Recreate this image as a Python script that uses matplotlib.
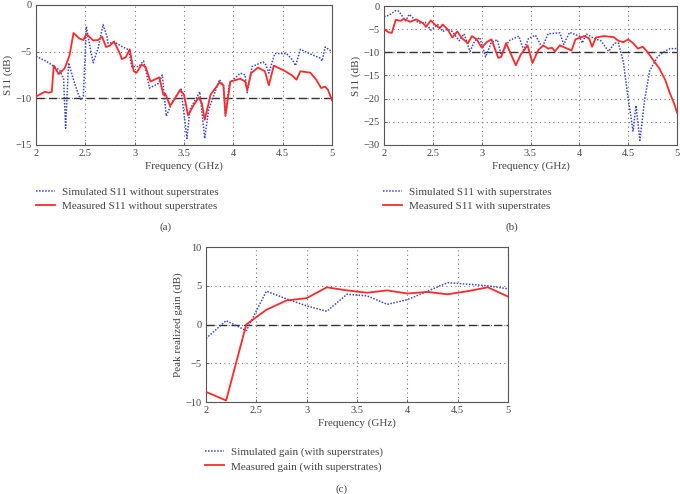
import matplotlib
matplotlib.use("Agg")
import matplotlib.pyplot as plt

# ---------------- data ----------------
# (a) without superstrates
sim_a_f = [2.0, 2.1, 2.2, 2.24, 2.28, 2.30, 2.33, 2.38, 2.43, 2.46, 2.48, 2.51, 2.54, 2.58, 2.63,
           2.68, 2.72, 2.73, 2.8, 2.88, 2.94, 2.97, 3.04, 3.09, 3.12, 3.15, 3.24, 3.28, 3.32, 3.39,
           3.47, 3.53, 3.56, 3.66, 3.71, 3.75, 3.86, 3.9, 3.92, 3.96, 4.07, 4.12, 4.14, 4.19, 4.3,
           4.33, 4.36, 4.42, 4.54, 4.6, 4.63, 4.68, 4.77, 4.88, 4.9, 4.93, 5.0]
sim_a_s = [-5.5, -6.0, -6.7, -7.0, -7.9, -13.2, -6.2, -8.0, -9.6, -10.2, -9.8, -2.3, -4.1, -6.2, -4.6,
           -2.1, -3.4, -4.1, -4.0, -4.5, -4.8, -6.6, -6.6, -6.0, -7.3, -8.9, -8.4, -7.5, -11.9, -10.2,
           -9.0, -14.3, -11.2, -9.3, -14.3, -11.2, -8.0, -8.6, -11.9, -8.4, -7.3, -7.5, -9.4, -6.6, -6.1,
           -6.4, -7.3, -5.2, -5.2, -5.9, -6.5, -4.75, -5.2, -5.7, -6.0, -4.5, -5.0]
meas_a_f = [2.0, 2.09, 2.13, 2.16, 2.18, 2.23, 2.29, 2.34, 2.38, 2.44, 2.48, 2.51, 2.58, 2.63, 2.67,
            2.71, 2.75, 2.79, 2.85, 2.87, 2.91, 2.95, 2.99, 3.02, 3.07, 3.11, 3.16, 3.2, 3.25, 3.29,
            3.31, 3.36, 3.41, 3.46, 3.5, 3.54, 3.6, 3.65, 3.68, 3.71, 3.77, 3.86, 3.9, 3.92, 3.97,
            4.07, 4.12, 4.14, 4.18, 4.25, 4.32, 4.36, 4.41, 4.51, 4.59, 4.64, 4.68, 4.78, 4.84, 4.89,
            4.93, 4.96, 5.0]
meas_a_s = [-9.8, -9.3, -9.4, -9.3, -6.5, -7.4, -6.8, -5.4, -3.0, -3.6, -3.75, -3.1, -3.8, -3.75, -3.4,
            -4.5, -4.35, -3.9, -5.2, -5.8, -5.6, -4.75, -7.1, -7.25, -6.4, -6.6, -8.2, -8.0, -7.75, -9.6,
            -9.5, -10.8, -10.0, -9.1, -9.6, -11.8, -10.7, -9.9, -10.5, -12.3, -9.6, -8.3, -8.6, -11.8, -8.2,
            -7.9, -8.2, -9.1, -7.3, -6.7, -7.1, -8.6, -6.5, -7.0, -7.5, -8.0, -7.1, -7.25, -8.0, -8.9,
            -8.75, -9.1, -10.2]

# (b) with superstrates
sim_b_f = [2.0, 2.05, 2.12, 2.15, 2.22, 2.26, 2.33, 2.38, 2.42, 2.48, 2.52, 2.55, 2.6, 2.65, 2.7,
           2.77, 2.82, 2.88, 2.93, 2.98, 3.04, 3.1, 3.16, 3.2, 3.28, 3.38, 3.43, 3.48, 3.55, 3.62,
           3.68, 3.8, 3.84, 3.9, 4.0, 4.03, 4.07, 4.15, 4.22, 4.3, 4.36, 4.4, 4.45, 4.5, 4.55,
           4.58, 4.62, 4.67, 4.72, 4.8, 4.88, 4.93, 5.0]
sim_b_s = [-2.3, -2.0, -1.0, -1.1, -3.2, -1.8, -3.3, -3.8, -3.5, -5.2, -4.5, -4.0, -5.5, -5.0, -5.5,
           -7.5, -6.0, -9.8, -7.5, -6.8, -11.0, -7.8, -7.3, -10.5, -7.5, -6.5, -9.5, -7.0, -6.3, -9.0,
           -6.0, -5.8, -8.3, -5.7, -6.5, -8.0, -6.0, -7.0, -7.5, -9.8, -8.0, -8.0, -12.0, -20.0, -27.0,
           -21.5, -29.0, -20.0, -14.0, -11.0, -9.7, -9.2, -9.2]
meas_b_f = [2.0, 2.05, 2.08, 2.12, 2.17, 2.2, 2.27, 2.33, 2.4, 2.43, 2.48, 2.52, 2.57, 2.6, 2.65,
            2.7, 2.75, 2.8, 2.86, 2.9, 2.95, 3.0, 3.05, 3.1, 3.17, 3.2, 3.25, 3.35, 3.4, 3.47,
            3.52, 3.58, 3.63, 3.68, 3.72, 3.75, 3.8, 3.92, 3.96, 4.05, 4.1, 4.13, 4.17, 4.25, 4.35,
            4.4, 4.45, 4.5, 4.55, 4.6, 4.65, 4.7, 4.75, 4.82, 4.88, 4.93, 4.97, 5.0]
meas_b_s = [-5.0, -5.7, -5.8, -3.0, -3.2, -2.8, -3.4, -2.9, -3.7, -4.5, -3.1, -4.0, -4.8, -4.0, -5.0,
            -6.8, -5.5, -7.0, -8.0, -6.5, -7.2, -9.0, -7.8, -7.2, -11.2, -11.0, -8.0, -12.8, -10.5, -8.5,
            -12.3, -9.5, -8.5, -9.2, -9.0, -9.8, -8.5, -9.6, -7.2, -6.5, -7.0, -8.8, -6.8, -6.5, -6.7,
            -7.5, -7.8, -7.2, -8.0, -9.2, -8.8, -10.0, -11.5, -13.5, -16.0, -19.0, -21.0, -23.0]

# (c) peak realized gain
gain_f = [2.0, 2.2, 2.4, 2.6, 2.8, 3.0, 3.2, 3.4, 3.6, 3.8, 4.0, 4.2, 4.4, 4.6, 4.8, 5.0]
gain_sim = [-1.8, 0.5, -0.8, 4.3, 3.3, 2.4, 1.7, 3.9, 3.7, 2.6, 3.2, 4.3, 5.4, 5.2, 5.0, 4.6]
gain_meas = [-8.7, -9.8, 0.0, 1.9, 3.1, 3.4, 4.8, 4.4, 4.1, 4.4, 4.0, 4.2, 3.9, 4.3, 4.8, 3.6]

xticks = [2, 2.5, 3, 3.5, 4, 4.5, 5]
xtick_labels = ["2", "2.5", "3", "3.5", "4", "4.5", "5"]

# ---------------- style ----------------
plt.rcParams['font.family'] = ['Liberation Serif', 'DejaVu Serif']
plt.rcParams['font.size'] = 7.5
FS = 7.5
BLUE = "#3a48c8"
RED = "#ff2a2a"
TXT = "#444444"

W, H = 680, 494
fig = plt.figure(figsize=(W / 100, H / 100), dpi=100)


def make_ax(l, t, r, b):
    return fig.add_axes([l / W, 1 - b / H, (r - l) / W, (b - t) / H])


def style(ax, ylim, yticks, ylabel, ref):
    ax.set_xlim(2, 5)
    ax.set_ylim(*ylim)
    ax.set_xticks(xticks)
    ax.set_xticklabels(xtick_labels)
    ax.set_yticks(yticks)
    ax.grid(True, linestyle=(0, (1, 3)), color="#777777", linewidth=0.8)
    ax.axhline(ref, color="#333333", linestyle=(0, (6, 3)), linewidth=1.0, zorder=2)
    for s in ax.spines.values():
        s.set_color("#555555")
        s.set_linewidth(0.8)
    ax.tick_params(direction="in", length=2, width=0.6, colors="#555555",
                   labelcolor=TXT, labelsize=FS, pad=3)
    ax.set_xlabel("Frequency (GHz)", fontsize=FS + 0.5, color=TXT, labelpad=2)
    ax.set_ylabel(ylabel, fontsize=FS + 0.5, color=TXT, labelpad=2)


def add_legend(ax, labels, x_px, y_px):
    h1, = ax.plot([], [], color=BLUE, linestyle=(0, (1, 1)), linewidth=1.1)
    h2, = ax.plot([], [], color=RED, linewidth=1.3)
    ax.legend([h1, h2], labels, loc="upper left",
              bbox_to_anchor=(x_px / W, 1 - y_px / H), bbox_transform=fig.transFigure,
              frameon=False, fontsize=FS + 0.5, handlelength=1.7, handletextpad=0.6,
              labelspacing=0.4, borderaxespad=0, borderpad=0, labelcolor=TXT)


# (a)
axa = make_ax(36, 5, 332, 145)
axa.plot(sim_a_f, sim_a_s, color=BLUE, linestyle=(0, (1, 1)), linewidth=1.1, zorder=3)
axa.plot(meas_a_f, meas_a_s, color=RED, linewidth=1.3, zorder=4)
style(axa, (-15, 0), [0, -5, -10, -15], "S11 (dB)", -10)
add_legend(axa, ["Simulated S11 without superstrates", "Measured S11 without superstrates"], 36, 187)
fig.text(166 / W, 1 - 227 / H, "(a)", ha="center", va="center", fontsize=FS + 0.5, color=TXT)

# (b)
axb = make_ax(384, 6, 677, 145)
axb.plot(sim_b_f, sim_b_s, color=BLUE, linestyle=(0, (1, 1)), linewidth=1.1, zorder=3)
axb.plot(meas_b_f, meas_b_s, color=RED, linewidth=1.3, zorder=4)
style(axb, (-30, 0), [0, -5, -10, -15, -20, -25, -30], "S11 (dB)", -10)
add_legend(axb, ["Simulated S11 with superstrates", "Measured S11 with superstrates"], 383, 187)
fig.text(512 / W, 1 - 227 / H, "(b)", ha="center", va="center", fontsize=FS + 0.5, color=TXT)

# (c)
axc = make_ax(206, 247, 508, 402)
axc.plot(gain_f, gain_sim, color=BLUE, linestyle=(0, (1, 1)), linewidth=1.1, zorder=3)
axc.plot(gain_f, gain_meas, color=RED, linewidth=1.3, zorder=4)
style(axc, (-10, 10), [10, 5, 0, -5, -10], "Peak realized gain (dB)", 0)
add_legend(axc, ["Simulated gain (with superstrates)", "Measured gain (with superstrates)"], 205, 447)
fig.text(342 / W, 1 - 489 / H, "(c)", ha="center", va="center", fontsize=FS + 0.5, color=TXT)

fig.savefig("out.png", dpi=100)
